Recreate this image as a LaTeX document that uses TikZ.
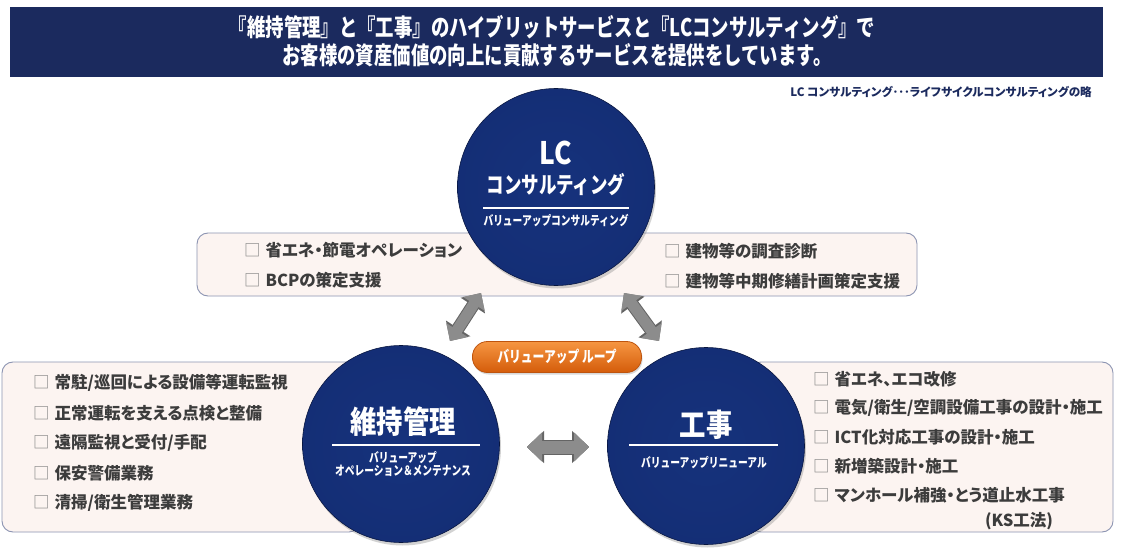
\documentclass[tikz,border=0pt]{standalone}
\usepackage{fontspec}
\setmainfont{Noto Sans CJK JP}
\newfontfamily\jpc{Noto Sans CJK JP}[FakeStretch=0.85]
\newfontfamily\jpcc{Noto Sans CJK JP}[FakeStretch=0.76]
\newfontfamily\jpp{Noto Sans CJK JP}[RawFeature=+palt]
\usetikzlibrary{arrows.meta,shadows,calc}
\definecolor{hdrnavy}{RGB}{27,42,94}
\definecolor{ballin}{RGB}{22,50,124}
\definecolor{ballmid}{RGB}{19,44,114}
\definecolor{ballout}{RGB}{14,34,94}
\definecolor{ballrim}{RGB}{8,22,64}
\definecolor{boxfill}{RGB}{252,244,241}
\definecolor{boxline}{RGB}{140,148,178}
\definecolor{itemtxt}{RGB}{60,60,60}
\definecolor{chkgray}{RGB}{130,130,130}
\definecolor{arrfill}{RGB}{140,140,140}
\definecolor{arrline}{RGB}{100,100,100}
\definecolor{orgtop}{RGB}{246,150,66}
\definecolor{orgbot}{RGB}{212,92,10}
\definecolor{orgline}{RGB}{190,84,14}
\pgfdeclareradialshading{ballshade}{\pgfpoint{0bp}{0bp}}{color(0bp)=(ballin); color(40bp)=(ballmid); color(46bp)=(ballout); color(50bp)=(ballrim); color(60bp)=(ballrim)}
\newcommand\ckbox{{\mdseries\color{chkgray}□}\hspace{0.3em}}
\tikzset{
  bigball/.style={circle, minimum size=197pt, inner sep=0pt, shading=ballshade,
    draw=ballrim, line width=0.6pt,
    drop shadow={opacity=0.35, shadow xshift=1.5pt, shadow yshift=-3pt}},
  listbox/.style={draw=boxline, fill=boxfill, line width=0.9pt, rounded corners=11pt},
  item/.style={anchor=west, inner sep=0pt, text=itemtxt, font=\jpp\bfseries\fontsize{16.5}{19}\selectfont},
  balltitle/.style={text=white, inner sep=0pt, font=\jpc\bfseries\fontsize{31}{33}\selectfont},
  ballsub/.style={text=white, inner sep=0pt, align=center, font=\jpcc\bfseries\fontsize{12.8}{13}\selectfont},
  whiteline/.style={draw=white, line width=1.2pt},
  dblarr/.style={line width=11pt, draw=arrfill,
    {Triangle[width=25pt,length=13pt]}-{Triangle[width=25pt,length=13pt]},
    preaction={draw=arrline, line width=13pt, {Triangle[width=28pt,length=15pt]}-{Triangle[width=28pt,length=15pt]}}},
  pill/.style={rounded corners=15pt, minimum width=169pt, minimum height=31pt, inner sep=0pt,
    top color=orgtop, bottom color=orgbot, draw=orgline, line width=0.8pt, text=white,
    font=\jpcc\bfseries\fontsize{15.5}{16}\selectfont,
    drop shadow={opacity=0.3, shadow xshift=1pt, shadow yshift=-2pt}}
}
\begin{document}
\begin{tikzpicture}[x=1pt,y=-1pt]
\useasboundingbox (0,0) rectangle (1145,548);
\fill[white] (0,0) rectangle (1145,548);
% header
\fill[hdrnavy] (10,7) rectangle (1103,77);
\node[text=white, inner sep=0pt, font=\jpcc\bfseries\fontsize{24.2}{26}\selectfont] (h1) at (552,27)
  {『維持管理』と『工事』のハイブリットサービスと『LCコンサルティング』で};
\node[text=white, inner sep=0pt, font=\jpcc\bfseries\fontsize{24.2}{26}\selectfont] (h2) at (557,55)
  {お客様の資産価値の向上に貢献するサービスを提供をしています。};
\node[anchor=east, inner sep=0pt, text=hdrnavy, font=\jpp\bfseries\fontsize{11.6}{13}\selectfont] (note) at (1092,92)
  {LC コンサルティング･･･ライフサイクルコンサルティングの略};
% list boxes
\draw[listbox] (197,233) rectangle (917,296);
\draw[listbox] (2,362) rectangle (360,532);
\draw[listbox] (750,362) rectangle (1113,532);
% top box items
\node[item] (t1) at (244,250) {\ckbox 省エネ・節電オペレーション};
\node[item] (t2) at (244,280) {\ckbox BCPの策定支援};
\node[item] (t3) at (664,251) {\ckbox 建物等の調査診断};
\node[item] (t4) at (664,281) {\ckbox 建物等中期修繕計画策定支援};
% left box items
\node[item] (l1) at (33,383) {\ckbox 常駐/巡回による設備等運転監視};
\node[item] (l2) at (33,413) {\ckbox 正常運転を支える点検と整備};
\node[item] (l3) at (33,443) {\ckbox 遠隔監視と受付/手配};
\node[item] (l4) at (33,473) {\ckbox 保安警備業務};
\node[item] (l5) at (33,503) {\ckbox 清掃/衛生管理業務};
% right box items
\node[item] (r1) at (813,379) {\ckbox 省エネ、エコ改修};
\node[item] (r2) at (813,408) {\ckbox 電気/衛生/空調設備工事の設計・施工};
\node[item] (r3) at (813,437) {\ckbox ICT化対応工事の設計・施工};
\node[item] (r4) at (813,466) {\ckbox 新増築設計・施工};
\node[item] (r5) at (813,495) {\ckbox マンホール補強・とう道止水工事};
\node[item, anchor=center] (r6) at (1019,521) {(KS工法)};
% arrows
\coordinate (la1) at (450,341);
\coordinate (la2) at (481,293);
\coordinate (ra1) at (624,293);
\coordinate (ra2) at (659,341);
\coordinate (ha1) at (527,447);
\coordinate (ha2) at (589,447);
\draw[dblarr] (la1) -- (la2);
\draw[dblarr] (ra1) -- (ra2);
\draw[dblarr, line width=13pt, draw=arrfill,
  {Triangle[width=28pt,length=15pt]}-{Triangle[width=28pt,length=15pt]},
  preaction={draw=arrline, line width=15pt, {Triangle[width=31pt,length=17pt]}-{Triangle[width=31pt,length=17pt]}}] (ha1) -- (ha2);
% circles
\node[bigball] (lc) at (556,187) {};
\node[bigball] (ij) at (401,444) {};
\node[bigball] (kj) at (706,446) {};
% LC circle text
\node[text=white, inner sep=0pt, font=\jpc\bfseries\fontsize{31}{32}\selectfont] (lct1) at ($(lc)+(0,-34)$) {LC};
\node[text=white, inner sep=0pt, font=\jpcc\bfseries\fontsize{23}{26}\selectfont] (lct2) at ($(lc)+(0,-2)$) {コンサルティング};
\draw[whiteline] ($(lc)+(-73,21)$) -- ($(lc)+(73,21)$);
\node[ballsub] (lct3) at ($(lc)+(0,34)$) {バリューアップコンサルティング};
% ijikanri circle text
\node[balltitle] (ijt1) at ($(ij)+(2,-22)$) {維持管理};
\draw[whiteline] ($(ij)+(-69,1)$) -- ($(ij)+(79,1)$);
\node[ballsub] (ijt2) at ($(ij)+(2,20)$) {バリューアップ\\オペレーション＆メンテナンス};
% kouji circle text
\node[balltitle] (kjt1) at ($(kj)+(0,-21)$) {工事};
\draw[whiteline] ($(kj)+(-77,-1)$) -- ($(kj)+(72,-1)$);
\node[ballsub] (kjt2) at ($(kj)+(-2,17)$) {バリューアップリニューアル};
% loop pill
\node[pill] (loop) at (557,357) {バリューアップ ループ};
\end{tikzpicture}
\end{document}
